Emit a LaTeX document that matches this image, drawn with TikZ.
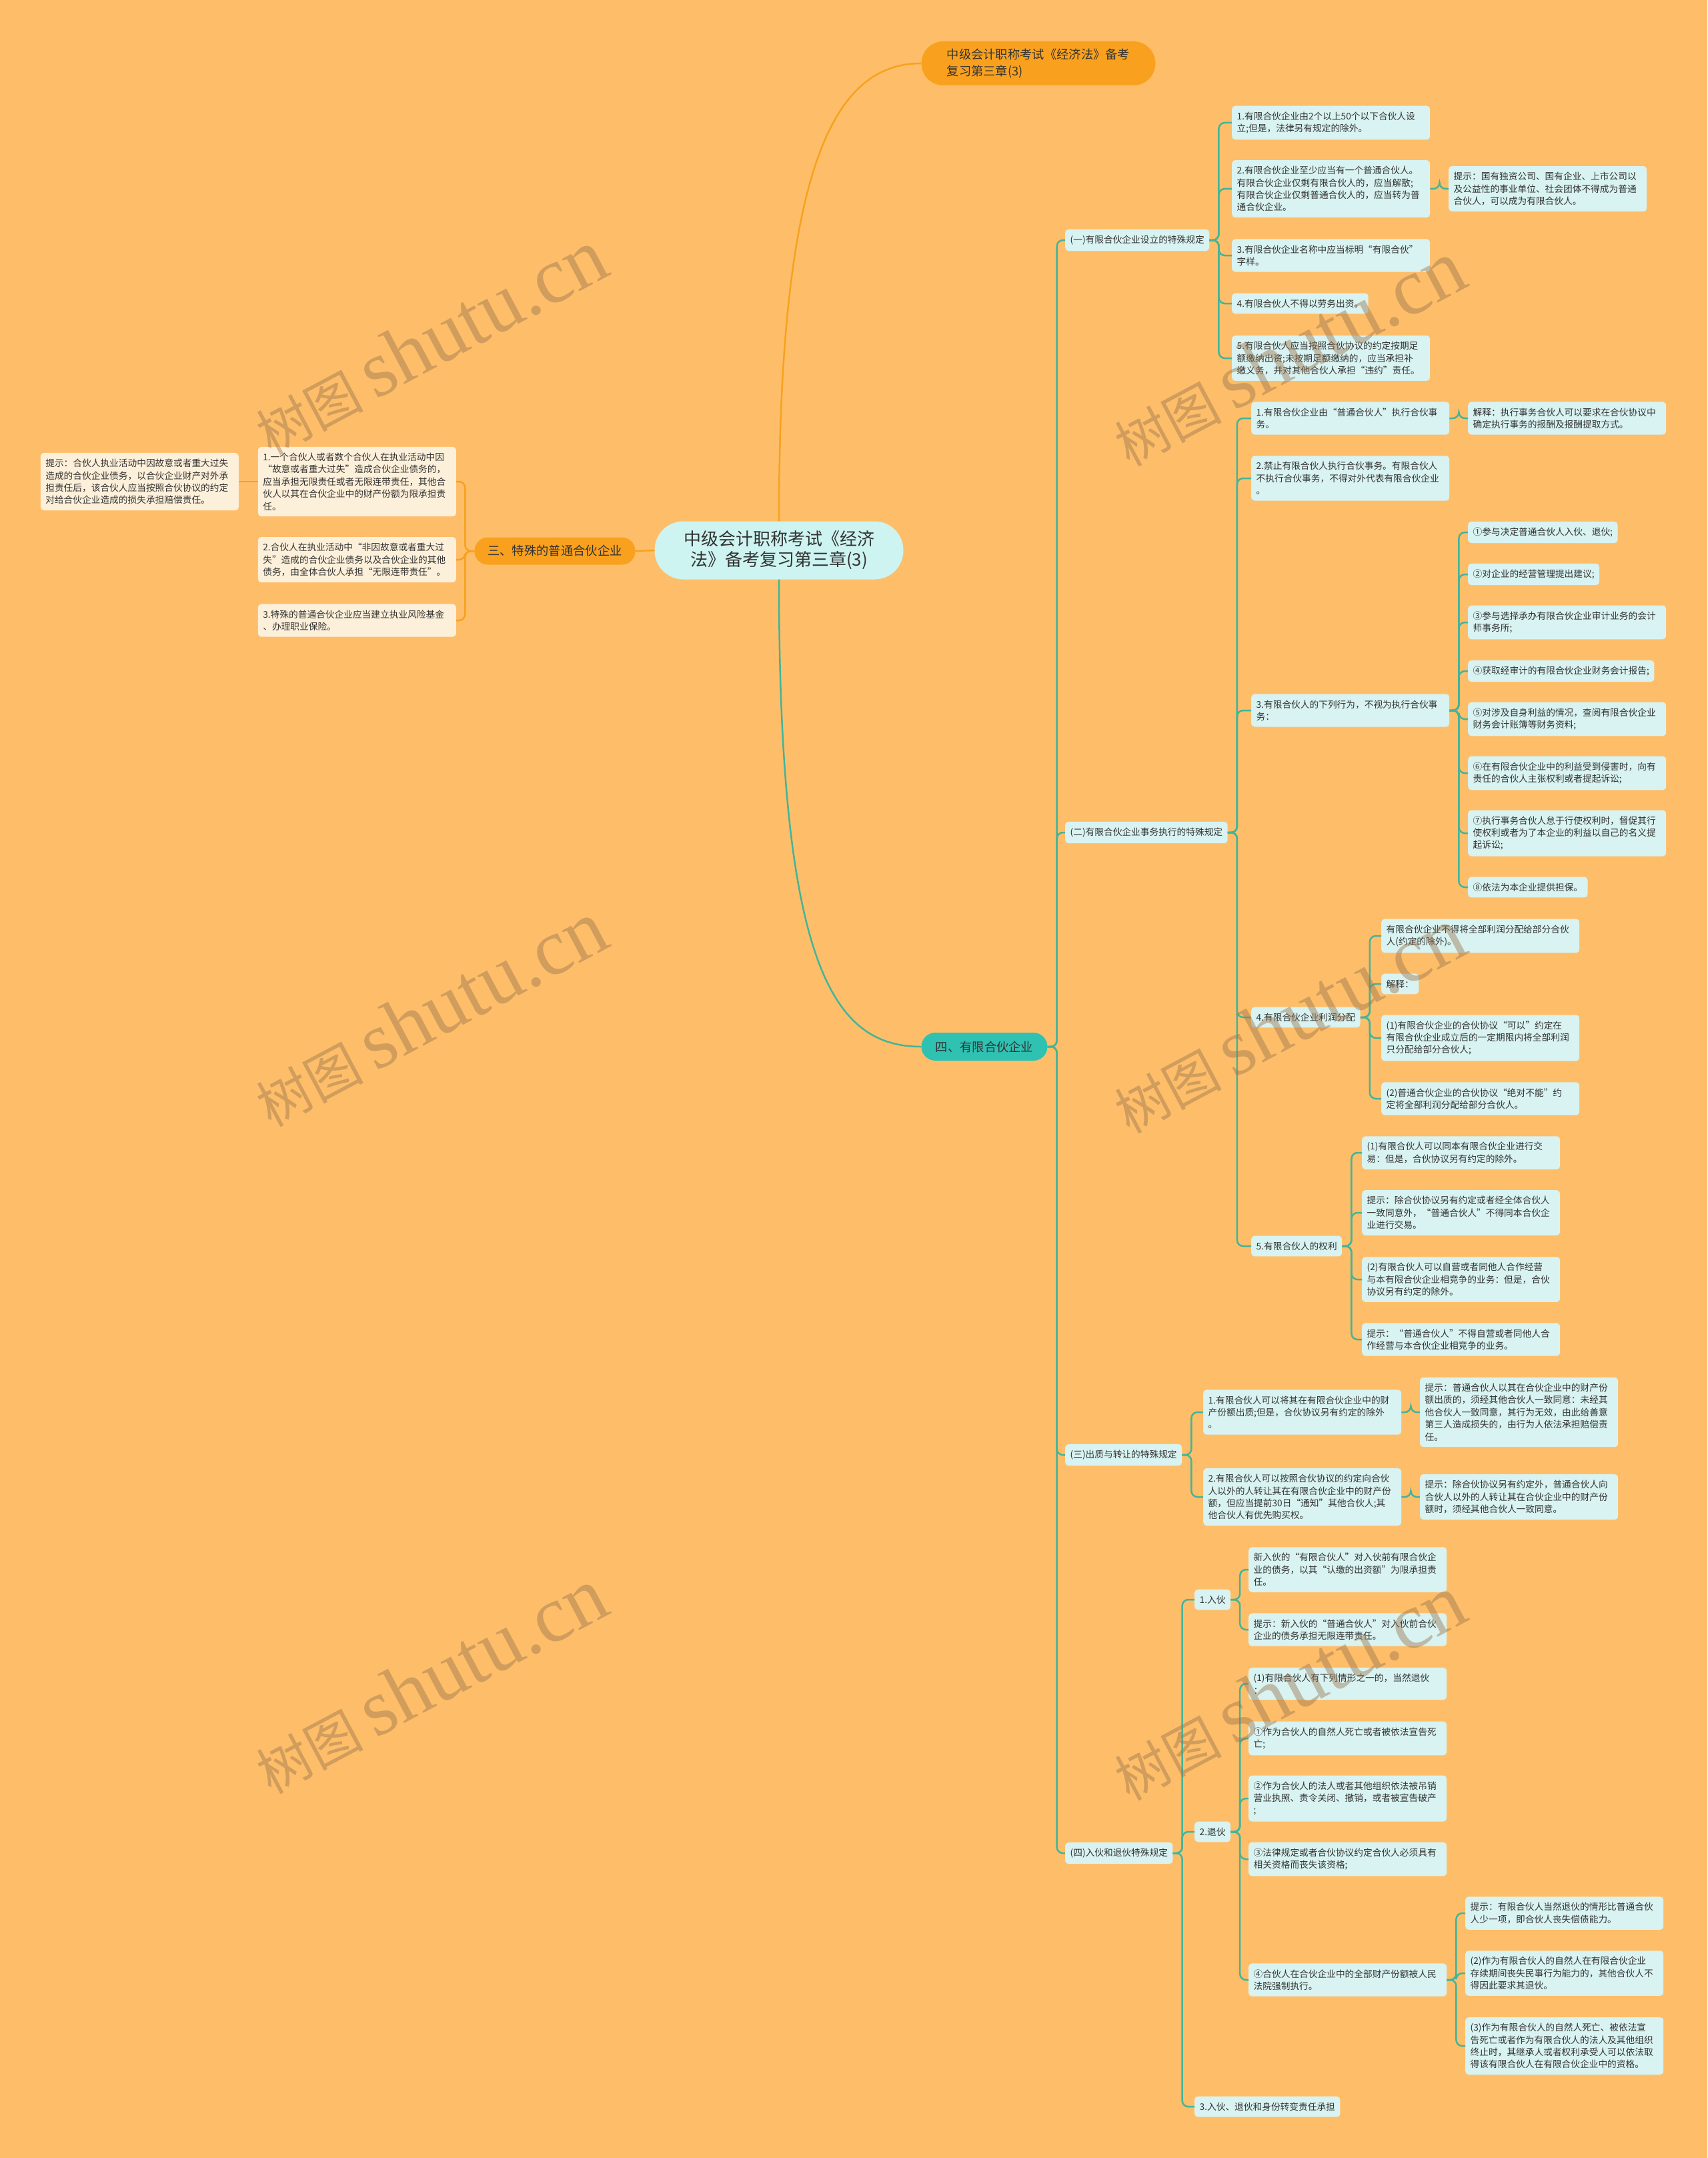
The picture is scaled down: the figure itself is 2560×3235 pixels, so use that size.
\documentclass[tikz,border=0pt]{standalone}
\usepackage{fontspec}
\setmainfont{Noto Sans CJK SC}
\newfontfamily\wmLatin{Liberation Serif}
\definecolor{bgOrange}{HTML}{FEBE69}
\definecolor{nodeOrange}{HTML}{F9A11E}
\definecolor{rootCyan}{HTML}{CDF4F0}
\definecolor{mainTeal}{HTML}{2FC1B1}
\definecolor{boxCyan}{HTML}{D8F3F1}
\definecolor{boxCream}{HTML}{FDF0DA}
\definecolor{lineTeal}{HTML}{43B49A}
\definecolor{lineOrange}{HTML}{F7A11F}
\definecolor{textDark}{HTML}{333333}
\definecolor{wmBrown}{HTML}{9A7550}
\newcommand{\wmText}{树图 {\wmLatin\fontsize{120pt}{120pt}\selectfont shutu.cn}}
\begin{document}
\begin{tikzpicture}[x=1pt, y=-1pt,
    mapBox/.style={fill=boxCyan, rounded corners=5pt, inner xsep=7.5pt, inner ysep=9pt, align=left, anchor=west, text=textDark, font=\fontsize{13.7pt}{18.4pt}\selectfont},
    mapWide/.style={mapBox, text width=282pt},
    mapCream/.style={mapWide, fill=boxCream, anchor=east},
    mapPill/.style={inner sep=0pt, text=textDark, font=\fontsize{18.3pt}{25pt}\selectfont},
    mapTeal/.style={draw=lineTeal, line width=2.5pt, rounded corners=9pt},
    mapOrange/.style={draw=lineOrange, line width=2.5pt, rounded corners=9pt},
    elbow/.style={to path={-- ++(#1,0) |- (\tikztotarget)}}, elbow/.default=14,
    waterMark/.style={rotate=28, text=wmBrown, text opacity=0.45, font=\fontsize{80pt}{80pt}\selectfont}]

    \fill[bgOrange] (0, 0) rectangle (2560, 3235);

    % Root and first level
    \node[mapPill, fill=rootCyan, rounded corners=43pt, minimum width=373pt, minimum height=87pt, align=center, font=\fontsize{26pt}{31pt}\selectfont] (root) at (1168, 825) {中级会计职称考试《经济\\法》备考复习第三章(3)};
    \node[mapPill, fill=nodeOrange, rounded corners=33pt, minimum width=351pt, minimum height=66pt, align=left] (topic) at (1557, 95) {中级会计职称考试《经济法》备考\\复习第三章(3)};
    \node[mapPill, fill=nodeOrange, rounded corners=20pt, minimum width=241pt, minimum height=41pt] (special) at (832, 826) {三、特殊的普通合伙企业};
    \node[mapPill, fill=mainTeal, rounded corners=21pt, minimum width=189pt, minimum height=42pt] (limited) at (1476, 1569) {四、有限合伙企业};

    % Special general partnership
    \node[mapCream] (spA) at (684, 722) {1.一个合伙人或者数个合伙人在执业活动中因\\“故意或者重大过失”造成合伙企业债务的，\\应当承担无限责任或者无限连带责任，其他合\\伙人以其在合伙企业中的财产份额为限承担责\\任。};
    \node[mapCream] (spATip) at (358, 722) {提示：合伙人执业活动中因故意或者重大过失\\造成的合伙企业债务，以合伙企业财产对外承\\担责任后，该合伙人应当按照合伙协议的约定\\对给合伙企业造成的损失承担赔偿责任。};
    \node[mapCream] (spB) at (684, 839) {2.合伙人在执业活动中“非因故意或者重大过\\失”造成的合伙企业债务以及合伙企业的其他\\债务，由全体合伙人承担“无限连带责任”。};
    \node[mapCream] (spC) at (684, 930) {3.特殊的普通合伙企业应当建立执业风险基金\\、办理职业保险。};

    % Second level
    \node[mapBox] (secOne) at (1597, 360) {(一)有限合伙企业设立的特殊规定};
    \node[mapBox] (secTwo) at (1597, 1248) {(二)有限合伙企业事务执行的特殊规定};
    \node[mapBox] (secThree) at (1597, 2181) {(三)出质与转让的特殊规定};
    \node[mapBox] (secFour) at (1597, 2778) {(四)入伙和退伙特殊规定};

    % (一)
    \node[mapWide] (setA) at (1847, 184) {1.有限合伙企业由2个以上50个以下合伙人设\\立;但是，法律另有规定的除外。};
    \node[mapWide] (setB) at (1847, 283) {2.有限合伙企业至少应当有一个普通合伙人。\\有限合伙企业仅剩有限合伙人的，应当解散;\\有限合伙企业仅剩普通合伙人的，应当转为普\\通合伙企业。};
    \node[mapWide] (setBTip) at (2172, 283) {提示：国有独资公司、国有企业、上市公司以\\及公益性的事业单位、社会团体不得成为普通\\合伙人，可以成为有限合伙人。};
    \node[mapWide] (setC) at (1847, 383) {3.有限合伙企业名称中应当标明“有限合伙”\\字样。};
    \node[mapBox] (setD) at (1847, 455) {4.有限合伙人不得以劳务出资。};
    \node[mapWide] (setE) at (1847, 537) {5.有限合伙人应当按照合伙协议的约定按期足\\额缴纳出资;未按期足额缴纳的，应当承担补\\缴义务，并对其他合伙人承担“违约”责任。};

    % (二)
    \node[mapWide] (runA) at (1876, 627) {1.有限合伙企业由“普通合伙人”执行合伙事\\务。};
    \node[mapWide] (runATip) at (2201, 627) {解释：执行事务合伙人可以要求在合伙协议中\\确定执行事务的报酬及报酬提取方式。};
    \node[mapWide] (runB) at (1876, 717) {2.禁止有限合伙人执行合伙事务。有限合伙人\\不执行合伙事务，不得对外代表有限合伙企业\\。};
    \node[mapWide] (runC) at (1876, 1065) {3.有限合伙人的下列行为，不视为执行合伙事\\务：};
    \node[mapBox] (actA) at (2201, 798) {①参与决定普通合伙人入伙、退伙;};
    \node[mapBox] (actB) at (2201, 861) {②对企业的经营管理提出建议;};
    \node[mapWide] (actC) at (2201, 933) {③参与选择承办有限合伙企业审计业务的会计\\师事务所;};
    \node[mapBox] (actD) at (2201, 1006) {④获取经审计的有限合伙企业财务会计报告;};
    \node[mapWide] (actE) at (2201, 1078) {⑤对涉及自身利益的情况，查阅有限合伙企业\\财务会计账簿等财务资料;};
    \node[mapWide] (actF) at (2201, 1159) {⑥在有限合伙企业中的利益受到侵害时，向有\\责任的合伙人主张权利或者提起诉讼;};
    \node[mapWide] (actG) at (2201, 1249) {⑦执行事务合伙人怠于行使权利时，督促其行\\使权利或者为了本企业的利益以自己的名义提\\起诉讼;};
    \node[mapBox] (actH) at (2201, 1330) {⑧依法为本企业提供担保。};
    \node[mapBox] (runD) at (1876, 1525) {4.有限合伙企业利润分配};
    \node[mapWide] (profitA) at (2071, 1403) {有限合伙企业不得将全部利润分配给部分合伙\\人(约定的除外)。};
    \node[mapBox] (profitB) at (2071, 1475) {解释：};
    \node[mapWide] (profitC) at (2071, 1556) {(1)有限合伙企业的合伙协议“可以”约定在\\有限合伙企业成立后的一定期限内将全部利润\\只分配给部分合伙人;};
    \node[mapWide] (profitD) at (2071, 1647) {(2)普通合伙企业的合伙协议“绝对不能”约\\定将全部利润分配给部分合伙人。};
    \node[mapBox] (runE) at (1876, 1868) {5.有限合伙人的权利};
    \node[mapWide] (rightA) at (2042, 1728) {(1)有限合伙人可以同本有限合伙企业进行交\\易：但是，合伙协议另有约定的除外。};
    \node[mapWide] (rightB) at (2042, 1818) {提示：除合伙协议另有约定或者经全体合伙人\\一致同意外，“普通合伙人”不得同本合伙企\\业进行交易。};
    \node[mapWide] (rightC) at (2042, 1918) {(2)有限合伙人可以自营或者同他人合作经营\\与本有限合伙企业相竞争的业务：但是，合伙\\协议另有约定的除外。};
    \node[mapWide] (rightD) at (2042, 2008) {提示：“普通合伙人”不得自营或者同他人合\\作经营与本合伙企业相竞争的业务。};

    % (三)
    \node[mapWide] (pledgeA) at (1804, 2117) {1.有限合伙人可以将其在有限合伙企业中的财\\产份额出质;但是，合伙协议另有约定的除外\\。};
    \node[mapWide] (pledgeATip) at (2129, 2117) {提示：普通合伙人以其在合伙企业中的财产份\\额出质的，须经其他合伙人一致同意：未经其\\他合伙人一致同意，其行为无效，由此给善意\\第三人造成损失的，由行为人依法承担赔偿责\\任。};
    \node[mapWide] (pledgeB) at (1804, 2244) {2.有限合伙人可以按照合伙协议的约定向合伙\\人以外的人转让其在有限合伙企业中的财产份\\额，但应当提前30日“通知”其他合伙人;其\\他合伙人有优先购买权。};
    \node[mapWide] (pledgeBTip) at (2129, 2244) {提示：除合伙协议另有约定外，普通合伙人向\\合伙人以外的人转让其在合伙企业中的财产份\\额时，须经其他合伙人一致同意。};

    % (四)
    \node[mapBox] (joinNode) at (1791, 2398) {1.入伙};
    \node[mapWide] (joinA) at (1872, 2353) {新入伙的“有限合伙人”对入伙前有限合伙企\\业的债务，以其“认缴的出资额”为限承担责\\任。};
    \node[mapWide] (joinB) at (1872, 2443) {提示：新入伙的“普通合伙人”对入伙前合伙\\企业的债务承担无限连带责任。};
    \node[mapBox] (quitNode) at (1791, 2746) {2.退伙};
    \node[mapWide] (quitA) at (1872, 2524) {(1)有限合伙人有下列情形之一的，当然退伙\\：};
    \node[mapWide] (quitB) at (1872, 2606) {①作为合伙人的自然人死亡或者被依法宣告死\\亡;};
    \node[mapWide] (quitC) at (1872, 2696) {②作为合伙人的法人或者其他组织依法被吊销\\营业执照、责令关闭、撤销，或者被宣告破产\\;};
    \node[mapWide] (quitD) at (1872, 2787) {③法律规定或者合伙协议约定合伙人必须具有\\相关资格而丧失该资格;};
    \node[mapWide] (quitE) at (1872, 2968) {④合伙人在合伙企业中的全部财产份额被人民\\法院强制执行。};
    \node[mapWide] (quitEa) at (2197, 2868) {提示：有限合伙人当然退伙的情形比普通合伙\\人少一项，即合伙人丧失偿债能力。};
    \node[mapWide] (quitEb) at (2197, 2958) {(2)作为有限合伙人的自然人在有限合伙企业\\存续期间丧失民事行为能力的，其他合伙人不\\得因此要求其退伙。};
    \node[mapWide] (quitEc) at (2197, 3067) {(3)作为有限合伙人的自然人死亡、被依法宣\\告死亡或者作为有限合伙人的法人及其他组织\\终止时，其继承人或者权利承受人可以依法取\\得该有限合伙人在有限合伙企业中的资格。};
    \node[mapBox] (shiftNode) at (1791, 3158) {3.入伙、退伙和身份转变责任承担};

    % Connectors
    \draw[mapOrange] (root.north) .. controls (1168, 250) and (1250, 95) .. (topic.west);
    \draw[mapOrange] (root.west) -- (special.east);
    \draw[mapTeal] (root.south) .. controls (1168, 1450) and (1250, 1569) .. (limited.west);
    \foreach \child in {spA, spB, spC}
        \draw[mapOrange] (special.west) to[elbow=-14] (\child.east);
    \draw[mapOrange] (spA.west) -- (spATip.east);

    \foreach \child in {secOne, secTwo, secThree, secFour}
        \draw[mapTeal] (limited.east) to[elbow] (\child.west);
    \foreach \child in {setA, setB, setC, setD, setE}
        \draw[mapTeal] (secOne.east) to[elbow] (\child.west);
    \draw[mapTeal] (setB.east) to[elbow] (setBTip.west);
    \foreach \child in {runA, runB, runC, runD, runE}
        \draw[mapTeal] (secTwo.east) to[elbow] (\child.west);
    \draw[mapTeal] (runA.east) to[elbow] (runATip.west);
    \foreach \child in {actA, actB, actC, actD, actE, actF, actG, actH}
        \draw[mapTeal] (runC.east) to[elbow] (\child.west);
    \foreach \child in {profitA, profitB, profitC, profitD}
        \draw[mapTeal] (runD.east) to[elbow] (\child.west);
    \foreach \child in {rightA, rightB, rightC, rightD}
        \draw[mapTeal] (runE.east) to[elbow] (\child.west);
    \foreach \child in {pledgeA, pledgeB}
        \draw[mapTeal] (secThree.east) to[elbow] (\child.west);
    \draw[mapTeal] (pledgeA.east) to[elbow] (pledgeATip.west);
    \draw[mapTeal] (pledgeB.east) to[elbow] (pledgeBTip.west);
    \foreach \child in {joinNode, quitNode, shiftNode}
        \draw[mapTeal] (secFour.east) to[elbow] (\child.west);
    \foreach \child in {joinA, joinB}
        \draw[mapTeal] (joinNode.east) to[elbow] (\child.west);
    \foreach \child in {quitA, quitB, quitC, quitD, quitE}
        \draw[mapTeal] (quitNode.east) to[elbow] (\child.west);
    \foreach \child in {quitEa, quitEb, quitEc}
        \draw[mapTeal] (quitE.east) to[elbow] (\child.west);

    % Watermarks
    \node[waterMark] (wmA) at (645, 513) {\wmText};
    \node[waterMark] (wmB) at (645, 1520) {\wmText};
    \node[waterMark] (wmC) at (645, 2520) {\wmText};
    \node[waterMark] (wmD) at (1932, 530) {\wmText};
    \node[waterMark] (wmE) at (1932, 1530) {\wmText};
    \node[waterMark] (wmF) at (1932, 2530) {\wmText};
\end{tikzpicture}
\end{document}
